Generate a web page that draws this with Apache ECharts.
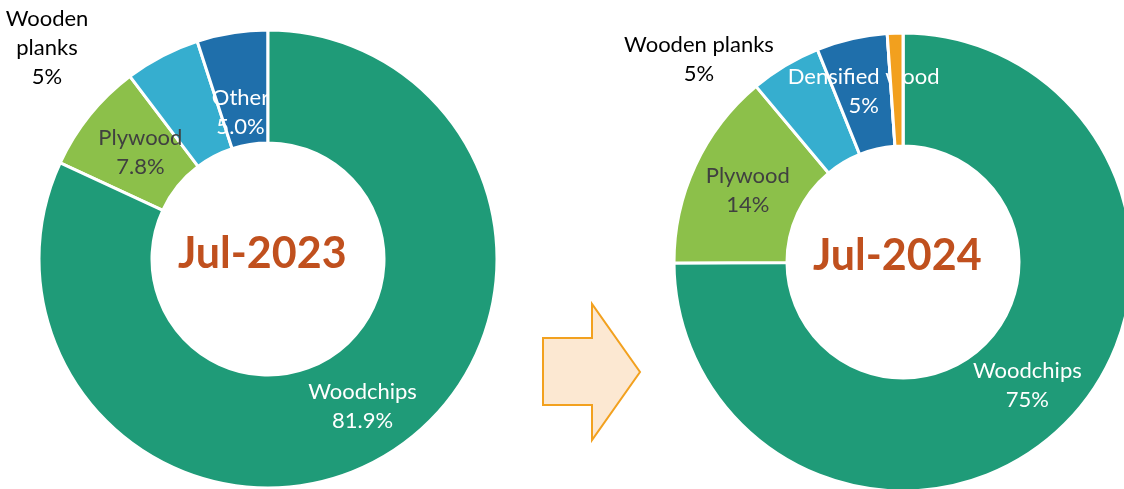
<!DOCTYPE html>
<html>
<head>
<meta charset="utf-8">
<script src="https://cdn.jsdelivr.net/npm/echarts@6/dist/echarts.min.js"></script>
<style>html,body{margin:0;padding:0;background:#fff;}#c{width:1124px;height:489px;}</style>
</head>
<body>
<div id="c"></div>
<script>
const leftTitle = 'Jul-2023';
const leftCats = ['Woodchips', 'Plywood', 'Wooden\nplanks', 'Other'];
const leftValues = [81.9, 7.8, 5.3, 5.0];
const leftPct = ['81.9%', '7.8%', '5%', '5.0%'];

const rightTitle = 'Jul-2024';
const rightCats = ['Woodchips', 'Plywood', 'Wooden planks', 'Densified wood', 'Other'];
const rightValues = [75, 14, 5, 5, 1.1];
const rightPct = ['75%', '14%', '5%', '5%', ''];

const COLORS = {
  'Woodchips': '#1F9B78',
  'Plywood': '#8CC04A',
  'Wooden planks': '#36AECF',
  'Densified wood': '#1F6FAB',
  'Other': '#1F6FAB'
};
const FONT = 'Lato, "Open Sans", sans-serif';

function colorFor(name, isRight) {
  const key = name.replace('\n', ' ');
  if (isRight && key === 'Other') return '#F2A01E';
  return COLORS[key];
}
function labelColor(name) {
  const key = name.replace('\n', ' ');
  if (key === 'Plywood') return '#404040';
  if (key === 'Wooden planks') return '#000000';
  return '#FFFFFF';
}

function buildData(cats, values, pct, isRight, overlayIdx, forOverlay) {
  return cats.map((c, i) => {
    const isOv = overlayIdx.indexOf(i) >= 0;
    const item = {
      name: c,
      value: values[i],
      itemStyle: { color: colorFor(c, isRight), borderColor: '#fff', borderWidth: 3 },
      label: {
        show: pct[i] !== '',
        formatter: c + '\n' + pct[i],
        color: labelColor(c),
        position: c.indexOf('Wooden') === 0 ? 'outside' : 'inside'
      },
      labelLine: { show: false }
    };
    if (forOverlay && !isOv) {
      item.itemStyle = { color: 'rgba(0,0,0,0)', borderWidth: 0 };
      item.label = { show: false };
    }
    if (!forOverlay && isOv) {
      item.label = { show: false };
    }
    return item;
  });
}

function pieSeries(cats, values, pct, isRight, center, overlayIdx, forOverlay, layout) {
  return {
    type: 'pie',
    z: forOverlay ? 5 : 2,
    silent: true,
    center: center,
    radius: [116, 229],
    startAngle: 90,
    clockwise: true,
    avoidLabelOverlap: false,
    animation: false,
    label: {
      fontFamily: FONT,
      fontSize: 22,
      lineHeight: 29,
      align: 'center'
    },
    labelLine: { show: false },
    labelLayout: layout,
    data: buildData(cats, values, pct, isRight, overlayIdx, forOverlay)
  };
}

const leftLayout = function (p) {
  if (p.dataIndex === 1) return { dx: 9, dy: 4 };
  if (p.dataIndex === 2) return { x: 47, y: 48, align: 'center', verticalAlign: 'middle' };
  if (p.dataIndex === 3) return { dy: 27 };
  return {};
};
const rightLayout = function (p) {
  if (p.dataIndex === 1) return { dx: 4, dy: 2 };
  if (p.dataIndex === 2) return { x: 699, y: 59, align: 'center', verticalAlign: 'middle' };
  return {};
};

const chart = echarts.init(document.getElementById('c'), null, { renderer: 'canvas' });
chart.setOption({
  backgroundColor: '#fff',
  animation: false,
  series: [
    pieSeries(leftCats, leftValues, leftPct, false, [268, 259], [0], false, leftLayout),
    pieSeries(leftCats, leftValues, leftPct, false, [268, 259], [0], true, leftLayout),
    pieSeries(rightCats, rightValues, rightPct, true, [903, 262], [4], false, rightLayout),
    pieSeries(rightCats, rightValues, rightPct, true, [903, 262], [4], true, rightLayout)
  ],
  graphic: [
    { type: 'text', left: 268 - 90, top: 258 - 25, z: 10,
      style: { text: leftTitle, width: 180, align: 'center', font: 'bold 43px ' + FONT, fill: '#C0501E' } },
    { type: 'text', left: 903 - 90, top: 260 - 25, z: 10,
      style: { text: rightTitle, width: 180, align: 'center', font: 'bold 43px ' + FONT, fill: '#C0501E' } },
    { type: 'polygon', z: 10,
      shape: { points: [[543, 338], [592, 338], [592, 304], [640, 372], [592, 440], [592, 405], [543, 405]] },
      style: { fill: '#FCE8D2', stroke: '#F2A11F', lineWidth: 2 } }
  ]
});
</script>
</body>
</html>
